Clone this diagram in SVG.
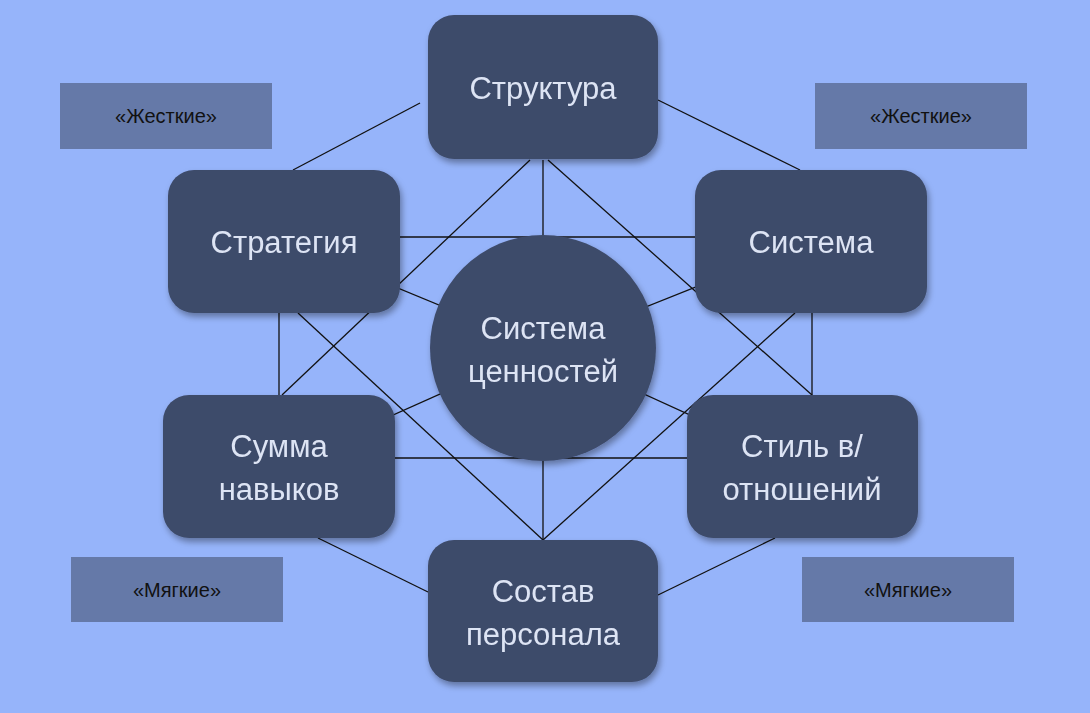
<svg xmlns="http://www.w3.org/2000/svg" width="1090" height="713" viewBox="0 0 1090 713">
<defs>
<style>
.n{fill:#3e4b6b}
.t{font-family:"Liberation Sans",Arial,sans-serif;font-size:31px;fill:#dde4f4;text-anchor:middle}
.b{fill:#6579a8}
.l{font-family:"Liberation Sans",Arial,sans-serif;font-size:20px;fill:#111;text-anchor:middle}
#conn line{stroke:#111;stroke-width:1.3}
</style>
<filter id="sh" x="-10%" y="-10%" width="130%" height="130%"><feDropShadow dx="2" dy="4" stdDeviation="3" flood-color="#000" flood-opacity="0.35"/></filter>
</defs>
<rect width="1090" height="713" fill="#96b4fa"/>
<g id="conn">
<line x1="420" y1="103" x2="293" y2="170"/>
<line x1="658" y1="100" x2="800" y2="170"/>
<line x1="543" y1="160" x2="543" y2="540"/>
<line x1="400" y1="237" x2="695" y2="237"/>
<line x1="395" y1="458" x2="687" y2="458"/>
<line x1="279" y1="313" x2="279" y2="395"/>
<line x1="812" y1="313" x2="812" y2="395"/>
<line x1="530" y1="160" x2="282" y2="395"/>
<line x1="548" y1="160" x2="812" y2="395"/>
<line x1="298" y1="313" x2="543" y2="540"/>
<line x1="795" y1="313" x2="543" y2="540"/>
<line x1="284" y1="241" x2="543" y2="348"/>
<line x1="811" y1="241" x2="543" y2="348"/>
<line x1="279" y1="466" x2="543" y2="348"/>
<line x1="802" y1="466" x2="543" y2="348"/>
<line x1="318" y1="538" x2="428" y2="592"/>
<line x1="775" y1="538" x2="658" y2="595"/>
</g>
<g id="hard-left"><rect class="b" x="60" y="83" width="212" height="66"/><text class="l" x="166" y="123">«Жесткие»</text></g>
<g id="hard-right"><rect class="b" x="815" y="83" width="212" height="66"/><text class="l" x="921" y="123">«Жесткие»</text></g>
<g id="soft-left"><rect class="b" x="71" y="557" width="212" height="65"/><text class="l" x="177" y="597">«Мягкие»</text></g>
<g id="soft-right"><rect class="b" x="802" y="557" width="212" height="65"/><text class="l" x="908" y="597">«Мягкие»</text></g>
<g id="struktura" filter="url(#sh)"><rect class="n" x="428" y="15" width="230" height="144" rx="26"/><text class="t" x="543" y="99">Структура</text></g>
<g id="strategiya" filter="url(#sh)"><rect class="n" x="168" y="170" width="232" height="143" rx="26"/><text class="t" x="284" y="253">Стратегия</text></g>
<g id="sistema" filter="url(#sh)"><rect class="n" x="695" y="170" width="232" height="143" rx="26"/><text class="t" x="811" y="253">Система</text></g>
<g id="cennosti" filter="url(#sh)"><circle class="n" cx="543" cy="348" r="113"/><text class="t" x="543" y="339">Система</text><text class="t" x="543" y="382">ценностей</text></g>
<g id="navyki" filter="url(#sh)"><rect class="n" x="163" y="395" width="232" height="143" rx="26"/><text class="t" x="279" y="457">Сумма</text><text class="t" x="279" y="500">навыков</text></g>
<g id="stil" filter="url(#sh)"><rect class="n" x="687" y="395" width="231" height="143" rx="26"/><text class="t" x="802" y="457">Стиль в/</text><text class="t" x="802" y="500">отношений</text></g>
<g id="sostav" filter="url(#sh)"><rect class="n" x="428" y="540" width="230" height="142" rx="26"/><text class="t" x="543" y="602">Состав</text><text class="t" x="543" y="645">персонала</text></g>
</svg>
